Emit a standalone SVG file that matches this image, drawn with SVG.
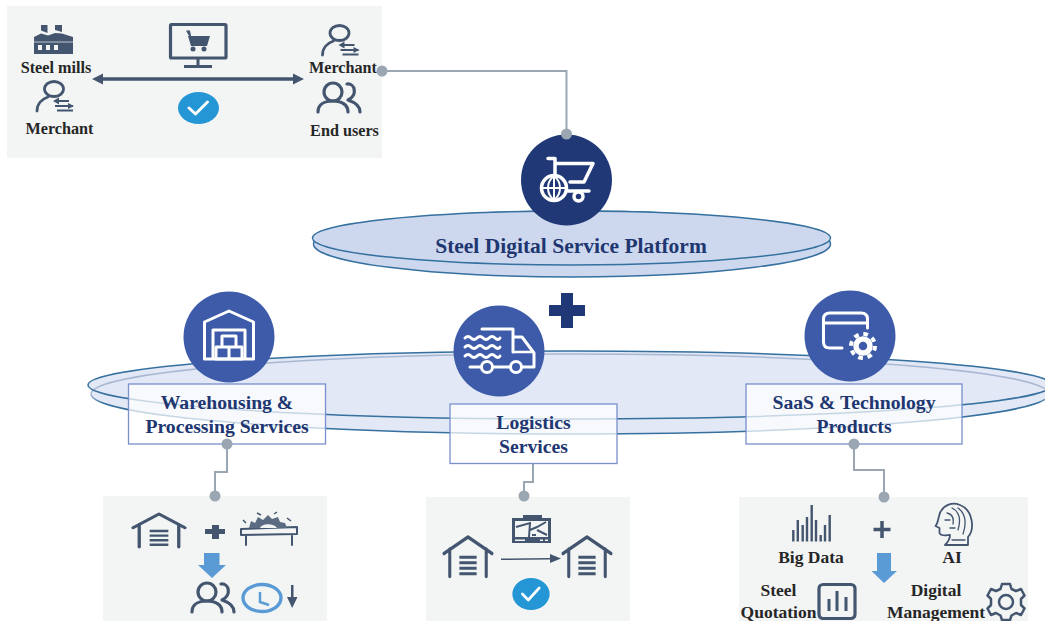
<svg xmlns="http://www.w3.org/2000/svg" width="1045" height="621" viewBox="0 0 1045 621">
<style>
.bg{fill:#f3f5f5}
.lbl{font-family:"Liberation Serif","Times New Roman",serif;font-weight:bold;font-size:16.2px;fill:#262626;text-anchor:middle}
.lbl2{font-family:"Liberation Serif","Times New Roman",serif;font-weight:bold;font-size:17.5px;fill:#262626;text-anchor:middle}
.ttl{font-family:"Liberation Serif","Times New Roman",serif;font-weight:bold;font-size:19.7px;fill:#203670;text-anchor:middle}
.conn{fill:none;stroke:#9aa7b3;stroke-width:2}
.dot{fill:#9aa7b3}
.box{fill:#fff;fill-opacity:.72;stroke:#7a90cc;stroke-width:1.3}
.circ{fill:#3d5ba9}
.w{fill:none;stroke:#fff;stroke-width:3;stroke-linecap:round;stroke-linejoin:round}
.d{fill:none;stroke:#44566f;stroke-width:2.8;stroke-linecap:round;stroke-linejoin:round}
.df{fill:#44566f}
.blue{fill:#5b9bd5}
.chk{fill:#2496d6}
.ck{fill:none;stroke:#fff;stroke-width:3;stroke-linecap:round;stroke-linejoin:round}
.ell{stroke:#35709f;stroke-width:1.5}
</style>
<defs>
<linearGradient id="ringback" x1="0" y1="0" x2="0" y2="1"><stop offset="0" stop-color="#a9b8d2"/><stop offset=".5" stop-color="#a9b8d2"/><stop offset=".62" stop-color="#35709f"/><stop offset="1" stop-color="#35709f"/></linearGradient>
<g id="garage"><path class="d" d="M-25 15L0 0L25 15M-19 11V36M19 11V36" style="stroke-width:3.2"/><path d="M-9 18.500H9M-9 23.500H9M-9 28.500H9M-9 33.500H9" stroke="#44566f" stroke-width="2.700" fill="none"/></g>
<g id="merchant"><ellipse class="d" cx="0" cy="0" rx="9.500" ry="7.500"/><path class="d" d="M-17 22C-17 15 -12 10 -6 8" style="stroke-width:2.800"/><path d="M2 12H15M1 17H19M3 21.500H19" stroke="#44566f" stroke-width="2" fill="none"/><path class="df" d="M-1 12l6 -3.500v7zM20 17l-6 -3v6z"/></g>
<g id="users"><circle class="d" cx="0" cy="0" r="9" style="stroke-width:3.200"/><path class="d" d="M-15 20C-15 13 -9 9 0 9C9 9 15 13 15 20M14 -8C22 -9 25 3 15 8C21 10 27 13 27 20" style="stroke-width:3.200"/></g>
<g id="check"><ellipse class="chk" cx="0" cy="0" rx="20.500" ry="16"/><path class="ck" d="M-9.500 0L-3 6L9 -6"/></g>
</defs>

<g id="connectors">
<path class="conn" d="M382 71H566.500V134"/>
<path class="conn" d="M227 444V472H215V496"/>
<path class="conn" d="M533 464V482H524V496"/>
<path class="conn" d="M854 444V470H884V497"/>
</g>

<g id="panel-top">
<rect class="bg" x="7" y="6" width="375" height="152"/>
<g id="steel-mills">
<path class="df" d="M41 25H47.500V33L41 30.500ZM55 25H62V32L55 30Z"/>
<path class="df" d="M34 37L41 33.500L48 35.500L55 33L62 33.500L73 37V54H34Z"/>
<path d="M38 45h4v5h-4zM46 45h4v5h-4zM54 45h4v5h-4z" fill="#f3f5f5"/>
<path d="M34 42H73" stroke="#f3f5f5" stroke-width=".7"/>
<text class="lbl" x="56" y="73">Steel mills</text>
</g>
<g id="merchant-left"><use href="#merchant" x="54" y="89"/><text class="lbl" x="59.500" y="133.500">Merchant</text></g>
<g id="monitor">
<rect x="170.500" y="24.500" width="55.500" height="33.500" rx="1" fill="none" stroke="#44566f" stroke-width="3.200"/>
<path d="M198 58V66M184 66.500H212" fill="none" stroke="#44566f" stroke-width="3"/>
<path class="df" d="M188 36H210L207 46H191ZM186 30.500H190L191 36H189Z"/><circle class="df" cx="193" cy="49" r="2.500"/><circle class="df" cx="204" cy="49" r="2.500"/>
</g>
<path id="double-arrow" class="df" d="M92 79L103 73.500V77.300H293V73.500L304 79L293 84.500V80.700H103V84.500Z"/>
<use id="check-top" href="#check" x="198.500" y="108"/>
<g id="merchant-right"><use href="#merchant" x="339.500" y="33"/><text class="lbl" x="343" y="73">Merchant</text></g>
<g id="end-users"><use href="#users" x="333" y="92"/><text class="lbl" x="344.500" y="136">End users</text></g>
</g>

<g id="platform">
<ellipse class="ell" cx="572" cy="244" rx="258.500" ry="33" fill="#cdd8ee"/>
<ellipse class="ell" cx="571.500" cy="238" rx="259" ry="27" fill="#cdd8ee"/>
<text x="571" y="253" font-family="'Liberation Serif',serif" font-weight="bold" font-size="21.500" fill="#203670" text-anchor="middle">Steel Digital Service Platform</text>
</g>
<g id="platform-icon">
<circle cx="566.500" cy="180" r="45.500" fill="#203876"/>
<path class="w" d="M548 158.500H555V176M555 163.500H593L584 182H570M568 191H589" style="stroke-width:3.500"/>
<circle class="w" cx="554" cy="188" r="12.500" style="stroke-width:3.500"/>
<path class="w" d="M542 188H566M554 176V200M554 176C546 182 546 194 554 200C562 194 562 182 554 176Z" style="stroke-width:2"/>
<circle class="w" cx="578.500" cy="196.500" r="4.500" style="stroke-width:3.500"/>
</g>
<circle class="dot" cx="566.500" cy="134" r="5.500"/>
<path id="plus" fill="#203876" d="M561 293H573V305H585V316H573V328H561V316H549V305H561Z"/>

<g id="services-disc">
<ellipse cx="570" cy="394" rx="479" ry="40" fill="#e2e8f5"/>
<ellipse cx="570" cy="385" rx="482" ry="34" fill="#e2e8f5"/>
<ellipse cx="570" cy="394" rx="479" ry="40" fill="none" stroke="url(#ringback)" stroke-width="1.500"/>
<ellipse class="ell" cx="570" cy="385" rx="482" ry="34" fill="none"/>
</g>

<g id="warehousing">
<circle class="circ" cx="229" cy="337" r="45.500"/>
<path class="w" d="M204.500 359V322L229 311L253.500 322V359ZM213 359V330H245V359"/>
<path class="w" d="M222 336H236V347H222ZM216 347H229V359H216ZM229 347H242V359H229Z"/>
<rect class="box" x="128.500" y="384" width="197" height="60"/>
<text class="ttl" x="227" y="409">Warehousing &amp;</text>
<text class="ttl" x="227" y="433">Processing Services</text>
</g>
<g id="logistics">
<circle class="circ" cx="499" cy="351" r="45.500"/>
<path class="w" d="M482 329H513V352M514 337H522L534 353V367H522M510 367H493M470 367H481"/>
<path class="w" d="M514 352H533" style="stroke-width:2.400"/>
<path class="w" d="M465 338q3 -3 6 0t6 0t6 0t6 0t6 0t5 0M465 347q3 -3 6 0t6 0t6 0t6 0t6 0t5 0M465 356q3 -3 6 0t6 0t6 0t6 0t6 0t5 0"/>
<circle class="w" cx="487" cy="367" r="5.500"/><circle class="w" cx="516" cy="367" r="5.500"/>
<rect class="box" x="450" y="404" width="167" height="59.500"/>
<text class="ttl" x="533.500" y="429">Logistics</text>
<text class="ttl" x="533.500" y="453">Services</text>
</g>
<g id="saas">
<circle class="circ" cx="850" cy="336" r="45.500"/>
<path class="w" d="M842 348H830C826 348 823.500 346 823.500 342V319C823.500 315 826 313 830 313H861C865 313 867.500 315 867.500 319V328M823.500 323H867.500"/>
<circle cx="863" cy="346" r="7" fill="none" stroke="#fff" stroke-width="5.500"/>
<circle cx="863" cy="346" r="12" fill="none" stroke="#fff" stroke-width="4" stroke-dasharray="4.700 4.720"/>
<rect class="box" x="746" y="384" width="216" height="60"/>
<text class="ttl" x="854" y="409">SaaS &amp; Technology</text>
<text class="ttl" x="854" y="433">Products</text>
</g>
<g id="panel-warehousing">
<rect class="bg" x="103" y="496" width="224" height="125"/>
<use href="#garage" transform="translate(159 514) scale(1.04 .92)"/>
<path class="df" d="M212 525H219V529H225V534H219V539H212V534H205V529H212Z"/>
<g id="saw">
<path class="d" d="M241 529L297 527V534L241 535ZM246 535V545M292 534V545" style="stroke-width:2"/>
<path d="M249 528L251 521L255 523L258 517L263 520L268 515L272 519L278 517L280 522L285 523L287 528Z" fill="#5a6b82"/>
<path d="M260 528C262 523 274 523 277 528Z" fill="#f3f5f5"/>
<path d="M243 520l3 3M257 513l4 2M274 514l3 -2M287 518l4 3" stroke="#44566f" stroke-width="1.500"/>
</g>
<path class="blue" d="M204 553H219.500V565H226L212 578L198 565H204Z"/>
<use href="#users" x="207" y="592"/>
<g id="clock"><ellipse cx="262" cy="598" rx="19" ry="13.500" fill="none" stroke="#5b9bd5" stroke-width="3.400"/><path d="M260 592V602L269 605" fill="none" stroke="#5b9bd5" stroke-width="2.500"/></g>
<path class="df" d="M291 585H293.500V597H297.500L292.200 608L287 597H291Z"/>
</g>
<g id="panel-logistics">
<rect class="bg" x="426" y="497" width="204" height="124"/>
<use href="#garage" transform="translate(468 537) scale(.96 1.1)"/>
<use href="#garage" transform="translate(587 537) scale(.96 1.1)"/>
<g id="gps">
<path class="df" d="M512 518H551V543H512ZM523 515H542V518H523Z"/>
<path d="M515 521H548V537H515Z" fill="#f3f5f5"/>
<path d="M516 527L530 523L529 537M530 530L537 527L546 522M537 530L547 535M536 535H532" stroke="#44566f" stroke-width="2" fill="none"/>
<path d="M515 539.500h10v1.500h-10zM540 539.500h3v1.500h-3zM545 539.500h3v1.500h-3z" fill="#f3f5f5"/>
</g>
<path class="df" d="M501 558.600L550 558V554L561 558.500L550 563V559.400L501 560Z"/>
<use href="#check" transform="translate(531 594) scale(.91 1)"/>
</g>
<g id="panel-saas">
<rect class="bg" x="739" y="497" width="289" height="124"/>
<g id="big-data">
<path d="M793.300 530V541.500M797.800 520V541.500M802.700 525V541.500M807 517V541.500M811.700 505V541.500M816 520V541.500M820.700 535V541.500M825 525V541.500M829.700 515V541.500" stroke="#44566f" stroke-width="2.400" fill="none"/>
<text class="lbl2" x="811" y="563">Big Data</text>
</g>
<path class="d" d="M882 521V538M873.500 529.500H890.500" style="stroke-width:3.500;stroke-linecap:butt"/>
<g id="ai">
<path class="d" d="M945 545H968V537C975 529 973 510 960 505C950 501 941 507 939 516C938 520 938 523 935.500 526L939.500 528V533C941 537 947 535 950 535C950 540 947 543 945 545Z" style="stroke-width:1.800"/>
<path class="d" d="M952 508C960 512 961 520 958 530M958 508C965 513 967 522 963 534M947 513C952 514 954 518 953 524M945 520H950M950 528H955M952 540H965" style="stroke-width:1.300"/>
<text class="lbl2" x="952" y="563">AI</text>
</g>
<path class="blue" d="M877 553H891V571H897L884 583L871.500 571H877Z"/>
<g id="quotation">
<text class="lbl2" x="778.500" y="596">Steel</text>
<text class="lbl2" x="778.500" y="618">Quotation</text>
<rect class="d" x="819" y="584.500" width="36" height="34" rx="4" style="stroke-width:3.200"/>
<path d="M829 599V611M837 591V611M846 597V611" stroke="#44566f" stroke-width="3" fill="none"/>
</g>
<g id="digital">
<text class="lbl2" x="936" y="596">Digital</text>
<text class="lbl2" x="936" y="618">Management</text>
<circle class="d" cx="1006" cy="602" r="7" style="stroke-width:2.500"/>
<path class="d" d="M1002 584H1010L1011.500 589L1016 591L1021 589L1024.500 595.500L1021 599V605L1024.500 608.500L1021 615L1016 613L1011.500 615.500L1010 620H1002L1000.500 615.500L996 613L991 615L987.500 608.500L991 605V599L987.500 595.500L991 589L996 591L1000.500 589Z" style="stroke-width:2.500"/>
</g>
</g>
<g id="dots">
<circle class="dot" cx="382" cy="71" r="5.500"/>
<circle class="dot" cx="227" cy="444" r="5.500"/>
<circle class="dot" cx="215" cy="496" r="5.500"/>
<circle class="dot" cx="524" cy="496" r="5.500"/>
<circle class="dot" cx="854" cy="444" r="5.500"/>
<circle class="dot" cx="884" cy="497" r="5.500"/>
</g>
</svg>
